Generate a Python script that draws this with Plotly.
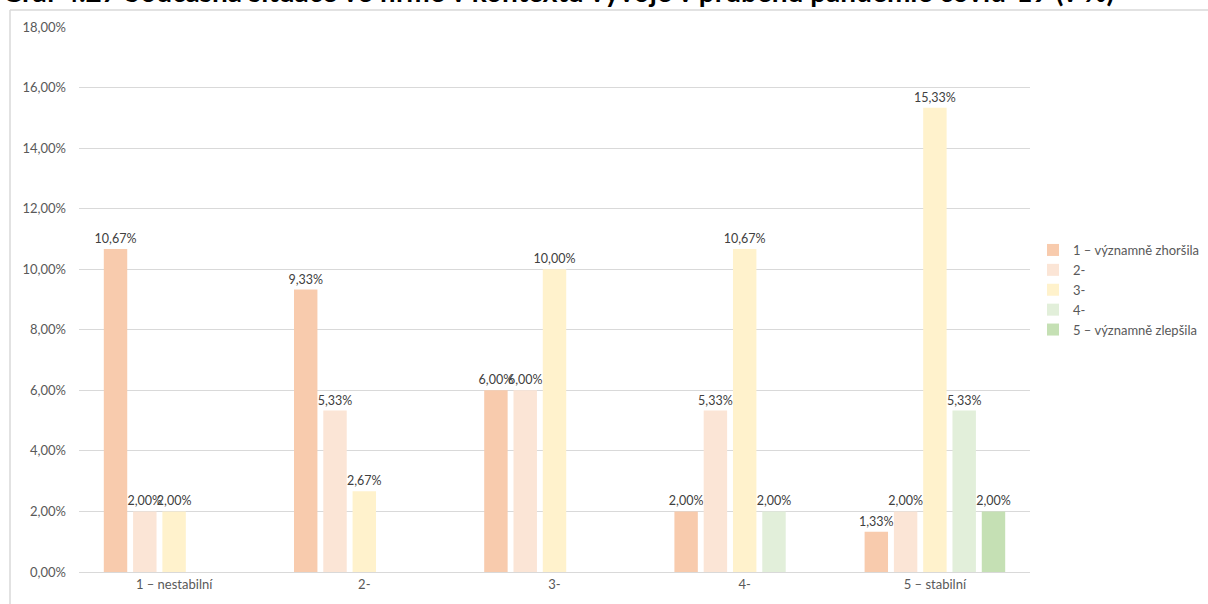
import plotly.graph_objects as go

categories = ["1 – nestabilní", "2-", "3-", "4-", "5 – stabilní"]
series_names = ["1 – významně zhoršila", "2-", "3-", "4-", "5 – významně zlepšila"]
s1 = [10.67, 9.33, 6.00, 2.00, 1.33]
s2 = [2.00, 5.33, 6.00, 5.33, 2.00]
s3 = [2.00, 2.67, 10.00, 10.67, 15.33]
s4 = [None, None, None, 2.00, 5.33]
s5 = [None, None, None, None, 2.00]
colors = ["#F8CBAD", "#FBE5D6", "#FFF2CC", "#E2EFDA", "#C5E0B4"]
title_text = "Graf 4.27 Současná situace ve firmě v kontextu vývoje v průběhu pandemie covid-19 (v %)"

FONT = "Lato"
W, H = 1208, 604
L, R, T, B = 79, 178, 27, 32
pw, ph = W - L - R, H - T - B

fig = go.Figure()
for name, vals, col in zip(series_names, [s1, s2, s3, s4, s5], colors):
    fig.add_trace(go.Bar(
        x=categories, y=vals, name=name, marker=dict(color=col, line=dict(width=0)),
        texttemplate="%{y:.2f}%", textposition="outside", constraintext="none",
        cliponaxis=False, textfont=dict(family=FONT, size=12.5, color="#404040"),
        hoverinfo="skip",
    ))

# frame lines
px = lambda v: (v - L) / pw
py = lambda v: (H - B - v) / ph
frame = dict(color="#D9D9D9", width=1.5)
fig.add_shape(type="line", xref="paper", yref="paper", x0=px(10), x1=px(W + 5),
              y0=py(10), y1=py(10), line=frame, layer="below")
fig.add_shape(type="line", xref="paper", yref="paper", x0=px(10), x1=px(10),
              y0=py(10), y1=py(H + 5), line=frame, layer="below")

fig.add_annotation(text="<b>" + title_text + "</b>", xref="paper", yref="paper",
                   x=px(0), y=1, xanchor="left", yanchor="bottom", yshift=17,
                   showarrow=False, font=dict(family=FONT, size=28, color="#000000"))

fig.update_layout(
    width=W, height=H, margin=dict(l=L, r=R, t=T, b=B, autoexpand=False),
    paper_bgcolor="white", plot_bgcolor="white",
    barmode="group", bargap=0.23, bargroupgap=0.2,
    separators=", ",
    font=dict(family=FONT, size=13, color="#595959"),
    showlegend=True,
    legend=dict(x=px(1033), y=py(290), xanchor="left", yanchor="middle",
                font=dict(family=FONT, size=13, color="#595959"),
                bgcolor="rgba(0,0,0,0)", tracegroupgap=0),
    xaxis=dict(showgrid=False, showline=True, linecolor="#D9D9D9", linewidth=1,
               ticks="", tickfont=dict(family=FONT, size=13, color="#595959")),
    yaxis=dict(range=[0, 18], dtick=2, tickformat=".2f", ticksuffix="%",
               showgrid=True, gridcolor="#D9D9D9", gridwidth=1, zeroline=False,
               showline=False, ticks="", ticklabelstandoff=12,
               tickfont=dict(family=FONT, size=13, color="#595959")),
)

fig.write_html("out.html", config={"displayModeBar": False},
               post_script="document.body.style.margin='0';document.body.style.overflow='hidden';")
